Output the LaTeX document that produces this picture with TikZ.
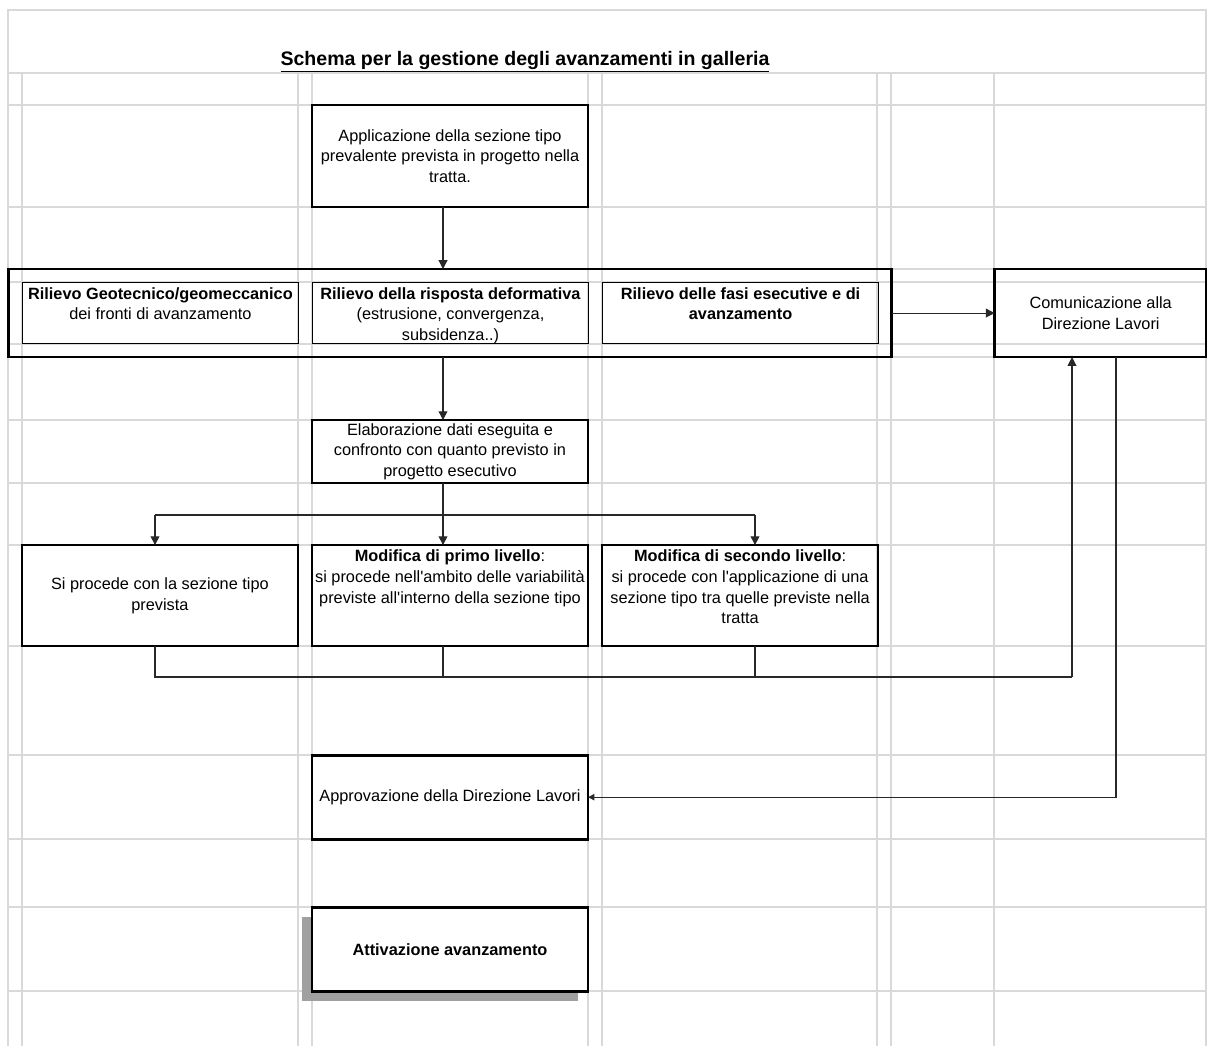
\documentclass[tikz,border=0pt]{standalone}
\usepackage{fontspec}
\setmainfont{Liberation Sans}
\usetikzlibrary{arrows.meta,positioning,shadows}
\definecolor{gridgray}{RGB}{217,217,217}
\definecolor{linegray}{RGB}{40,40,40}
\definecolor{shadowgray}{RGB}{160,160,160}
\newcommand{\toptext}[2]{\parbox[c][#1][t]{6.8cm}{\centering\strut #2}}
\tikzset{
  cellfont/.style={font=\fontsize{11.6}{14.6}\selectfont},
  titletext/.style={font=\fontsize{13.9}{16}\selectfont\bfseries,anchor=base},
  gridline/.style={draw=gridgray,line width=0.8pt},
  mainbox/.style={draw=black,line width=1.9pt,minimum width=6.9cm,
    inner sep=0pt,outer sep=0pt,align=center,cellfont},
  thinbox/.style={mainbox,line width=1pt},
  surveybox/.style={draw=black,line width=1.9pt,minimum width=22.075cm,
    minimum height=2.2cm,inner sep=0pt,outer sep=0pt},
  innerbox/.style={mainbox,line width=1.1pt,minimum height=1.525cm},
  shadowed/.style={general shadow={fill=shadowgray,shadow xshift=-0.25cm,
    shadow yshift=-0.25cm}},
  flowline/.style={line width=0.75pt,draw=linegray},
  flowarrow/.style={flowline,-{Triangle[length=2.2mm,width=2.2mm]}},
  backarrow/.style={flowline,-{Triangle[length=1.6mm,width=1.6mm]}},
}
\begin{document}
\begin{tikzpicture}[x=0.025cm,y=-0.025cm,node distance=0.35cm]
  \useasboundingbox (0,0) rectangle (1207,1046);
  % sheet grid
  \foreach \gx in {22,298,312,588,602,877,891,994}
    \draw[gridline] (\gx,73) -- (\gx,1046);
  \foreach \gy in {73,105,207,269,282,344,357,420,483,545,646,755,839,907,991}
    \draw[gridline] (8,\gy) -- (1206,\gy);
  \draw[gridline] (8,1046) -- (8,10) -- (1206,10) -- (1206,1046);

  \node[titletext] (title) at (525,65)
    {\underline{Schema per la gestione degli avanzamenti in galleria}};

  \node[mainbox,minimum height=2.55cm] (appl) at (450,156)
    {Applicazione della sezione tipo\\prevalente prevista in progetto nella\\tratta.};
  \node[surveybox,below=1.55cm of appl] (survey) {};
  \node[innerbox,right=0.35cm of survey.west] (geo)
    {\toptext{1.4cm}{\textbf{Rilievo Geotecnico/geomeccanico}\\dei fronti di avanzamento}};
  \node[innerbox,right=of geo] (defo)
    {\toptext{1.4cm}{\textbf{Rilievo della risposta deformativa}\\(estrusione, convergenza,\\subsidenza..)}};
  \node[innerbox,right=of defo] (fasi)
    {\toptext{1.4cm}{\textbf{Rilievo delle fasi esecutive e di}\\\textbf{avanzamento}}};
  \node[mainbox,minimum width=5.3cm,minimum height=2.2cm,right=2.575cm of survey] (comm)
    {Comunicazione alla\\Direzione Lavori};

  \node[thinbox,minimum height=1.575cm,below=1.575cm of survey] (elab)
    {Elaborazione dati eseguita e\\confronto con quanto previsto in\\progetto esecutivo};

  \node[mainbox,minimum height=2.525cm,below=1.55cm of elab] (primo)
    {\toptext{2.4cm}{\textbf{Modifica di primo livello}:\\si procede nell\textquotesingle ambito delle variabilità\\previste all\textquotesingle interno della sezione tipo}};
  \node[mainbox,minimum height=2.525cm,left=of primo] (procede)
    {Si procede con la sezione tipo\\prevista};
  \node[mainbox,minimum height=2.525cm,right=of primo] (secondo)
    {\toptext{2.4cm}{\textbf{Modifica di secondo livello}:\\si procede con l\textquotesingle applicazione di una\\sezione tipo tra quelle previste nella\\tratta}};

  \node[mainbox,minimum height=2.1cm,below=2.725cm of primo] (appr)
    {Approvazione della Direzione Lavori};
  \node[mainbox,minimum height=2.1cm,fill=white,shadowed,below=1.7cm of appr] (attiv)
    {\textbf{Attivazione avanzamento}};

  % junctions
  \coordinate (spine) at (443,0);
  \coordinate (split) at (443,515);
  \coordinate (splitL) at (155,515);
  \coordinate (splitR) at (755,515);
  \coordinate (merge) at (443,677);
  \coordinate (mergeL) at (155,677);
  \coordinate (mergeR) at (1072,677);
  \coordinate (back) at (1116,0);

  \draw[flowarrow] (appl.south -| spine) -- (survey.north -| spine);
  \draw[flowarrow] (survey.east) -- (comm.west);
  \draw[flowarrow] (survey.south -| spine) -- (elab.north -| spine);
  \draw[flowline] (elab.south -| spine) -- (split);
  \draw[flowline] (splitL) -- (splitR);
  \draw[flowarrow] (splitL) -- (procede.north -| splitL);
  \draw[flowarrow] (split) -- (primo.north -| split);
  \draw[flowarrow] (splitR) -- (secondo.north -| splitR);
  \draw[flowline] (procede.south -| mergeL) -- (mergeL) -- (mergeR);
  \draw[flowline] (primo.south -| merge) -- (merge);
  \draw[flowline] (secondo.south -| splitR) -- (splitR |- merge);
  \draw[flowarrow] (mergeR) -- (comm.south -| mergeR);
  \draw[backarrow] (comm.south -| back) |- (appr.east);
\end{tikzpicture}
\end{document}
